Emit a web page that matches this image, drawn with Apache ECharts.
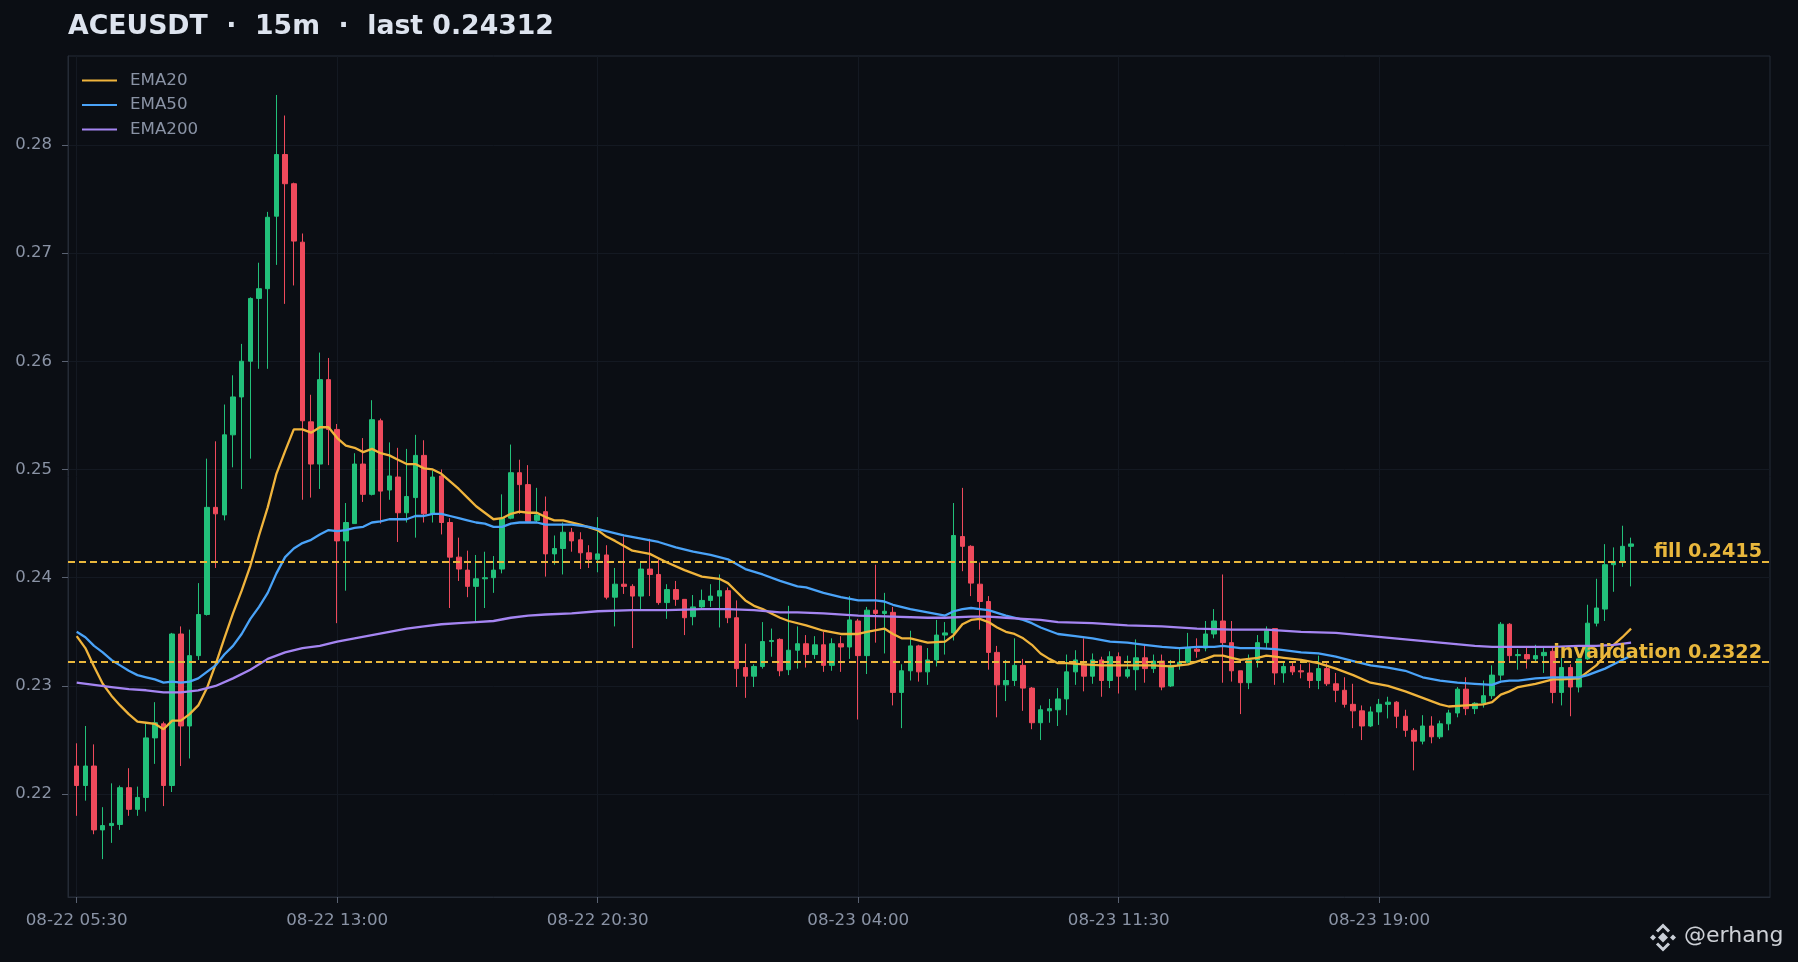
<!DOCTYPE html>
<html><head><meta charset="utf-8">
<script src="https://cdn.jsdelivr.net/npm/echarts@6/dist/echarts.min.js"></script>
<style>html,body{margin:0;padding:0;background:#0b0e14;}#c{width:1798px;height:962px;}</style>
</head><body><div id="c"></div>
<script>
// ---- data ----
const symbolName = 'ACEUSDT';
const timeframe = '15m';
const lastPrice = '0.24312';
const startUTC = Date.UTC(2024, 7, 22, 5, 30); // first candle 08-22 05:30, 15m bars
const tickLabels = ['08-22 05:30', '08-22 13:00', '08-22 20:30', '08-23 04:00', '08-23 11:30', '08-23 19:00'];

const opens = [
0.2226,0.2208,0.2226,0.2167,0.2171,0.2172,0.2206,0.2186,0.2197,0.2252,
0.2265,0.2208,0.2348,0.2263,0.2328,0.2366,0.2465,0.2458,0.2532,0.2567,
0.2600,0.2658,0.2667,0.2734,0.2791,0.2764,0.2710,0.2544,0.2505,0.2583,
0.2537,0.2434,0.2450,0.2505,0.2477,0.2545,0.2481,0.2493,0.2460,0.2474,
0.2513,0.2459,0.2494,0.2451,0.2419,0.2407,0.2392,0.2399,0.2400,0.2408,
0.2455,0.2497,0.2486,0.2453,0.2461,0.2422,0.2427,0.2442,0.2435,0.2423,
0.2417,0.2421,0.2382,0.2394,0.2392,0.2383,0.2408,0.2403,0.2377,0.2389,
0.2380,0.2364,0.2373,0.2379,0.2383,0.2388,0.2363,0.2317,0.2309,0.2318,
0.2341,0.2343,0.2315,0.2333,0.2339,0.2329,0.2338,0.2319,0.2339,0.2336,
0.2360,0.2328,0.2370,0.2367,0.2368,0.2294,0.2314,0.2337,0.2313,0.2324,
0.2347,0.2349,0.2438,0.2429,0.2394,0.2378,0.2331,0.2301,0.2305,0.2319,
0.2298,0.2266,0.2277,0.2278,0.2288,0.2313,0.2320,0.2309,0.2324,0.2305,
0.2327,0.2309,0.2315,0.2326,0.2316,0.2323,0.2300,0.2319,0.2322,0.2334,
0.2335,0.2348,0.2360,0.2340,0.2314,0.2303,0.2324,0.2340,0.2353,0.2312,
0.2318,0.2314,0.2312,0.2305,0.2316,0.2302,0.2296,0.2283,0.2277,0.2263,
0.2276,0.2283,0.2285,0.2272,0.2259,0.2249,0.2263,0.2253,0.2265,0.2275,
0.2297,0.2279,0.2284,0.2291,0.2310,0.2357,0.2328,0.2329,0.2325,0.2328,
0.2332,0.2294,0.2317,0.2299,0.2325,0.2358,0.2371,0.2412,0.2414,0.2429];

const closes = [
0.2208,0.2226,0.2167,0.2171,0.2173,0.2206,0.2186,0.2197,0.2252,0.2266,
0.2208,0.2348,0.2263,0.2328,0.2366,0.2465,0.2459,0.2532,0.2567,0.2600,
0.2658,0.2667,0.2733,0.2791,0.2764,0.2711,0.2545,0.2505,0.2583,0.2537,
0.2434,0.2451,0.2505,0.2477,0.2546,0.2480,0.2494,0.2460,0.2475,0.2513,
0.2459,0.2493,0.2451,0.2419,0.2408,0.2392,0.2399,0.2400,0.2407,0.2455,
0.2497,0.2486,0.2452,0.2458,0.2422,0.2427,0.2442,0.2434,0.2423,0.2417,
0.2422,0.2382,0.2394,0.2392,0.2383,0.2408,0.2403,0.2377,0.2389,0.2380,
0.2363,0.2373,0.2379,0.2383,0.2388,0.2363,0.2316,0.2309,0.2318,0.2341,
0.2342,0.2314,0.2333,0.2339,0.2329,0.2338,0.2319,0.2339,0.2336,0.2361,
0.2328,0.2370,0.2367,0.2369,0.2294,0.2314,0.2337,0.2313,0.2324,0.2347,
0.2349,0.2439,0.2429,0.2395,0.2378,0.2331,0.2301,0.2305,0.2319,0.2298,
0.2266,0.2278,0.2279,0.2288,0.2313,0.2324,0.2309,0.2324,0.2305,0.2327,
0.2309,0.2315,0.2326,0.2316,0.2323,0.2299,0.2319,0.2322,0.2335,0.2332,
0.2348,0.2360,0.2340,0.2314,0.2303,0.2324,0.2340,0.2351,0.2312,0.2318,
0.2313,0.2313,0.2305,0.2316,0.2302,0.2296,0.2283,0.2277,0.2263,0.2276,
0.2283,0.2285,0.2272,0.2259,0.2249,0.2263,0.2253,0.2265,0.2275,0.2297,
0.2279,0.2284,0.2291,0.2310,0.2357,0.2328,0.2329,0.2325,0.2328,0.2331,
0.2294,0.2317,0.2299,0.2325,0.2358,0.2372,0.2412,0.2415,0.2429,0.24312];

const lows = [
0.2180,0.2194,0.2163,0.2140,0.2155,0.2167,0.2180,0.2180,0.2184,0.2228,
0.2189,0.2202,0.2226,0.2233,0.2324,0.2365,0.2409,0.2453,0.2502,0.2482,
0.2510,0.2593,0.2593,0.2689,0.2653,0.2670,0.2472,0.2474,0.2482,0.2504,
0.2358,0.2388,0.2450,0.2470,0.2476,0.2450,0.2472,0.2433,0.2451,0.2437,
0.2451,0.2451,0.2440,0.2372,0.2397,0.2382,0.2359,0.2372,0.2386,0.2404,
0.2454,0.2459,0.2451,0.2451,0.2401,0.2412,0.2403,0.2424,0.2408,0.2409,
0.2405,0.2380,0.2355,0.2385,0.2335,0.2370,0.2383,0.2375,0.2362,0.2374,
0.2347,0.2356,0.2371,0.2373,0.2354,0.2358,0.2299,0.2289,0.2299,0.2316,
0.2327,0.2309,0.2310,0.2316,0.2317,0.2325,0.2313,0.2314,0.2313,0.2325,
0.2269,0.2311,0.2340,0.2330,0.2282,0.2261,0.2305,0.2304,0.2301,0.2318,
0.2329,0.2342,0.2406,0.2383,0.2352,0.2315,0.2271,0.2286,0.2300,0.2277,
0.2260,0.2250,0.2266,0.2263,0.2273,0.2301,0.2295,0.2302,0.2290,0.2298,
0.2293,0.2307,0.2296,0.2303,0.2312,0.2296,0.2299,0.2315,0.2321,0.2326,
0.2332,0.2344,0.2303,0.2304,0.2274,0.2297,0.2317,0.2335,0.2301,0.2303,
0.2310,0.2307,0.2298,0.2297,0.2300,0.2285,0.2280,0.2261,0.2250,0.2262,
0.2264,0.2270,0.2261,0.2253,0.2222,0.2246,0.2247,0.2251,0.2259,0.2271,
0.2273,0.2274,0.2280,0.2288,0.2305,0.2322,0.2315,0.2316,0.2322,0.2312,
0.2284,0.2282,0.2272,0.2294,0.2324,0.2355,0.2360,0.2387,0.2410,0.2392];

const highs = [
0.2247,0.2263,0.2246,0.2188,0.2210,0.2208,0.2224,0.2207,0.2265,0.2285,
0.2267,0.2349,0.2355,0.2352,0.2395,0.2510,0.2526,0.2560,0.2587,0.2616,
0.2659,0.2691,0.2738,0.2846,0.2827,0.2765,0.2718,0.2569,0.2608,0.2603,
0.2542,0.2469,0.2515,0.2529,0.2564,0.2547,0.2525,0.2520,0.2519,0.2532,
0.2527,0.2499,0.2500,0.2455,0.2437,0.2425,0.2421,0.2424,0.2420,0.2477,
0.2523,0.2509,0.2504,0.2483,0.2475,0.2439,0.2451,0.2446,0.2442,0.2430,
0.2456,0.2430,0.2409,0.2438,0.2394,0.2414,0.2436,0.2417,0.2394,0.2397,
0.2380,0.2384,0.2389,0.2394,0.2403,0.2391,0.2379,0.2339,0.2320,0.2359,
0.2353,0.2344,0.2374,0.2355,0.2347,0.2346,0.2350,0.2344,0.2346,0.2383,
0.2362,0.2373,0.2412,0.2386,0.2373,0.2320,0.2351,0.2338,0.2335,0.2361,
0.2359,0.2469,0.2483,0.2430,0.2414,0.2383,0.2337,0.2324,0.2344,0.2325,
0.2299,0.2282,0.2288,0.2298,0.2329,0.2333,0.2344,0.2330,0.2327,0.2332,
0.2331,0.2328,0.2343,0.2338,0.2329,0.2329,0.2324,0.2335,0.2349,0.2344,
0.2360,0.2371,0.2403,0.2360,0.2314,0.2329,0.2347,0.2355,0.2353,0.2322,
0.2323,0.2320,0.2321,0.2328,0.2321,0.2312,0.2308,0.2302,0.2282,0.2281,
0.2288,0.2290,0.2286,0.2278,0.2261,0.2273,0.2272,0.2268,0.2278,0.2299,
0.2308,0.2285,0.2305,0.2319,0.2359,0.2358,0.2334,0.2336,0.2338,0.2336,
0.2336,0.2326,0.2320,0.2325,0.2375,0.2399,0.2431,0.2428,0.2448,0.2437];

// EMA values: [candle index, value]
const ema20 = [[0,.2346],[1,.2335],[2,.2318],[3,.2302],[4,.2291],[5,.2282],[6,.2274],[7,.2267],[8,.2266],[9,.2265],[10,.2260],[11,.2268],[12,.2268],[13,.2274],[14,.2282],[15,.2298],[16,.2320],[17,.2344],[18,.2367],[19,.2388],[20,.2411],[21,.2439],[22,.2465],[23,.2496],[24,.2517],[25,.2537],[26,.2537],[27,.2534],[28,.2539],[29,.2539],[30,.2529],[31,.2522],[32,.2520],[33,.2516],[34,.2519],[35,.2515],[36,.2513],[37,.2509],[38,.2505],[39,.2505],[40,.2501],[41,.2500],[42,.2496],[43,.2489],[44,.2482],[45,.2474],[46,.2466],[47,.2460],[48,.2454],[49,.2455],[50,.2459],[51,.2461],[52,.2460],[53,.2460],[54,.2456],[55,.2453],[56,.2453],[58,.2449],[60,.2444],[61,.2438],[62,.2434],[64,.2425],[66,.2422],[67,.2418],[68,.2414],[70,.2407],[72,.2401],[74,.2399],[75,.2395],[76,.2387],[77,.2379],[78,.2374],[79,.2371],[80,.2367],[81,.2363],[82,.2360],[84,.2356],[86,.2351],[88,.2348],[90,.2348],[91,.2350],[93,.2353],[94,.2348],[95,.2344],[96,.2344],[98,.2340],[100,.2341],[101,.2347],[102,.2357],[103,.2361],[104,.2362],[105,.2359],[106,.2354],[107,.2350],[108,.2348],[109,.2344],[110,.2338],[111,.2330],[112,.2325],[113,.2321],[114,.2321],[116,.2320],[118,.2319],[120,.2319],[122,.2319],[124,.2319],[126,.2318],[128,.2320],[130,.2325],[131,.2328],[132,.2328],[133,.2326],[134,.2324],[135,.2325],[136,.2326],[137,.2328],[138,.2327],[139,.2326],[141,.2324],[143,.2321],[145,.2316],[147,.2310],[149,.2303],[151,.2300],[153,.2295],[155,.2289],[157,.2283],[158,.2281],[160,.2282],[162,.2283],[163,.2285],[164,.2292],[165,.2295],[166,.2299],[168,.2302],[170,.2306],[171,.2306],[173,.2307],[174,.2313],[175,.2319],[176,.2328],[177,.2338],[178,.2345],[179,.2353]];

const ema50 = [[0,.2350],[1,.2345],[2,.2337],[3,.2331],[4,.2324],[5,.2319],[6,.2314],[7,.2310],[8,.2308],[9,.2306],[10,.2303],[11,.2304],[12,.2303],[13,.2304],[14,.2307],[15,.2313],[16,.2319],[17,.2329],[18,.2337],[19,.2348],[20,.2362],[21,.2373],[22,.2386],[23,.2404],[24,.2419],[25,.2427],[26,.2432],[27,.2435],[28,.2440],[29,.2444],[30,.2443],[31,.2444],[32,.2446],[33,.2447],[34,.2451],[35,.2452],[36,.2454],[37,.2454],[38,.2454],[39,.2457],[40,.2457],[41,.2459],[42,.2459],[43,.2457],[44,.2455],[45,.2453],[46,.2451],[47,.2450],[48,.2447],[49,.2447],[50,.2450],[51,.2451],[52,.2451],[53,.2451],[54,.2449],[55,.2449],[57,.2449],[59,.2447],[61,.2443],[63,.2439],[65,.2436],[67,.2433],[69,.2428],[71,.2424],[73,.2421],[75,.2417],[77,.2408],[79,.2403],[81,.2397],[83,.2392],[84,.2391],[86,.2386],[88,.2382],[90,.2379],[92,.2379],[93,.2378],[94,.2375],[96,.2371],[98,.2368],[100,.2365],[101,.2369],[102,.2371],[103,.2372],[104,.2371],[105,.2370],[107,.2365],[109,.2361],[110,.2358],[111,.2354],[113,.2348],[115,.2346],[117,.2344],[119,.2341],[121,.2340],[123,.2338],[125,.2336],[127,.2335],[129,.2336],[131,.2336],[132,.2337],[134,.2335],[136,.2335],[138,.2334],[139,.2333],[141,.2331],[143,.2330],[145,.2327],[147,.2323],[149,.2319],[151,.2317],[153,.2314],[155,.2308],[157,.2305],[159,.2303],[161,.2302],[163,.2301],[164,.2304],[165,.2305],[166,.2305],[168,.2307],[170,.2308],[172,.2308],[173,.2308],[174,.2310],[175,.2313],[176,.2316],[177,.2320],[178,.2324],[179,.2328]];

const ema200 = [[0,.2303],[2,.2301],[4,.2299],[6,.2297],[8,.2296],[10,.2294],[12,.2294],[14,.2296],[15,.2298],[16,.2300],[18,.2307],[20,.2315],[22,.2325],[24,.2331],[26,.2335],[28,.2337],[30,.2341],[32,.2344],[34,.2347],[36,.2350],[38,.2353],[40,.2355],[42,.2357],[44,.2358],[46,.2359],[48,.2360],[50,.2363],[52,.2365],[54,.2366],[57,.2367],[60,.2369],[64,.2370],[68,.2370],[72,.2371],[75,.2371],[78,.2370],[81,.2368],[83,.2368],[86,.2367],[90,.2365],[94,.2364],[98,.2363],[100,.2363],[103,.2364],[105,.2364],[107,.2363],[109,.2362],[111,.2361],[113,.2359],[117,.2358],[121,.2356],[125,.2355],[129,.2353],[133,.2352],[137,.2352],[141,.2350],[145,.2349],[149,.2346],[153,.2343],[157,.2340],[161,.2337],[163,.2336],[166,.2336],[170,.2336],[173,.2337],[175,.2337],[177,.2338],[179,.2340]];

const fillLevel = 0.2415;
const invalidationLevel = 0.2322;

// ---- build ----
const PAD_LEFT = 1, PAD_RIGHT = 16;
function fmt(ms) {
  const d = new Date(ms);
  const p = n => String(n).padStart(2, '0');
  return p(d.getUTCMonth() + 1) + '-' + p(d.getUTCDate()) + ' ' + p(d.getUTCHours()) + ':' + p(d.getUTCMinutes());
}
const candleTimes = opens.map((_, i) => fmt(startUTC + i * 15 * 60000));
const categories = [];
for (let i = 0; i < PAD_LEFT; i++) categories.push('');
candleTimes.forEach(t => categories.push(t));
for (let i = 0; i < PAD_RIGHT; i++) categories.push('');

const candleData = [];
for (let i = 0; i < PAD_LEFT; i++) candleData.push('-');
opens.forEach((o, i) => candleData.push([o, closes[i], lows[i], highs[i]]));

const shift = arr => arr.map(([i, v]) => [i + PAD_LEFT, v]);
const FONT = 'DejaVu Sans';
const UP = '#22c07a', DOWN = '#ef4a5c';
const YEL = '#f0b43c', BLUE = '#4aa3f8', PURP = '#a585f2', LVL = '#e9b73c';
const textGray = '#8a93a5';
const showTick = (idx, v) => tickLabels.indexOf(v) >= 0;

const chart = echarts.init(document.getElementById('c'), null, {renderer: 'canvas'});
chart.setOption({
  backgroundColor: '#0b0e14',
  animation: false,
  title: {
    text: symbolName + '  \u00b7  ' + timeframe + '  \u00b7  last ' + lastPrice,
    left: 68, top: 14, padding: 0,
    textStyle: {color: '#dde3ee', fontFamily: FONT, fontWeight: 'bold', fontSize: 26.7}
  },
  legend: {
    data: ['EMA20', 'EMA50', 'EMA200'],
    orient: 'vertical', left: 82, top: 72, padding: 0,
    itemWidth: 35, itemHeight: 2, itemGap: 7.5, icon: 'rect',
    textStyle: {color: textGray, fontFamily: FONT, fontSize: 16.7, padding: [0, 0, 0, 8]}
  },
  grid: {left: 68, right: 28, top: 56, bottom: 65, show: true, borderColor: '#252b36', borderWidth: 1, backgroundColor: '#0b0e14'},
  xAxis: {
    type: 'category', data: categories, boundaryGap: false,
    axisLine: {show: true, lineStyle: {color: '#252b36'}},
    axisTick: {show: true, length: 6, lineStyle: {color: '#5a6272'}, interval: showTick},
    axisLabel: {color: textGray, fontFamily: FONT, fontSize: 16.7, margin: 15, interval: showTick},
    splitLine: {show: true, lineStyle: {color: '#141922', width: 1}, interval: showTick}
  },
  yAxis: {
    type: 'value', min: 0.2105, max: 0.2882, splitNumber: 8, scale: true, position: 'left',
    axisLine: {show: true, lineStyle: {color: '#252b36'}},
    axisTick: {show: true, length: 6, lineStyle: {color: '#5a6272'}, customValues: [0.22, 0.23, 0.24, 0.25, 0.26, 0.27, 0.28]},
    axisLabel: {color: textGray, fontFamily: FONT, fontSize: 16.5, margin: 16,
      customValues: [0.22, 0.23, 0.24, 0.25, 0.26, 0.27, 0.28],
      formatter: v => v.toFixed(2)},
    splitLine: {show: true, lineStyle: {color: '#141922', width: 1}}
  },
  series: [
    {
      name: 'price', type: 'candlestick', data: candleData, barWidth: 5,
      itemStyle: {color: UP, color0: DOWN, borderColor: UP, borderColor0: DOWN, borderWidth: 1},
      z: 2,
      markLine: {
        silent: true, symbol: ['none', 'none'], animation: false, precision: 6,
        lineStyle: {color: LVL, type: [7, 4], width: 1.8},
        label: {show: true, position: 'insideEndTop', distance: [8, 0], color: LVL,
          fontFamily: FONT, fontWeight: 'bold', fontSize: 19.2},
        data: [
          {yAxis: fillLevel, label: {formatter: 'fill ' + fillLevel}},
          {yAxis: invalidationLevel, label: {formatter: 'invalidation ' + invalidationLevel}}
        ]
      }
    },
    {name: 'EMA20', type: 'line', data: shift(ema20), showSymbol: false, symbol: 'none', lineStyle: {color: YEL, width: 2.3}, itemStyle: {color: YEL}, z: 3},
    {name: 'EMA50', type: 'line', data: shift(ema50), showSymbol: false, symbol: 'none', lineStyle: {color: BLUE, width: 2.3}, itemStyle: {color: BLUE}, z: 3},
    {name: 'EMA200', type: 'line', data: shift(ema200), showSymbol: false, symbol: 'none', lineStyle: {color: PURP, width: 2.3}, itemStyle: {color: PURP}, z: 3}
  ],
  graphic: [
    {
      type: 'group', left: 1650, top: 923, silent: true,
      children: [
        {type: 'polygon', shape: {points: [[14,9],[19,14],[14,19],[9,14]]}, style: {fill: '#c9ced6'}},
        {type: 'polygon', shape: {points: [[4,11],[7,14],[4,17],[1,14]]}, style: {fill: '#c9ced6'}},
        {type: 'polygon', shape: {points: [[24,11],[27,14],[24,17],[21,14]]}, style: {fill: '#c9ced6'}},
        {type: 'polyline', shape: {points: [[8,8],[14,2],[20,8]]}, style: {stroke: '#c9ced6', lineWidth: 3, fill: null}},
        {type: 'polyline', shape: {points: [[8,20],[14,26],[20,20]]}, style: {stroke: '#c9ced6', lineWidth: 3, fill: null}}
      ]
    },
    {
      type: 'text', left: 1684, top: 925, silent: true,
      style: {text: '@erhang', fill: 'rgba(226,229,235,0.9)', fontFamily: FONT, fontSize: 22}
    }
  ]
});
</script>
</body></html>
